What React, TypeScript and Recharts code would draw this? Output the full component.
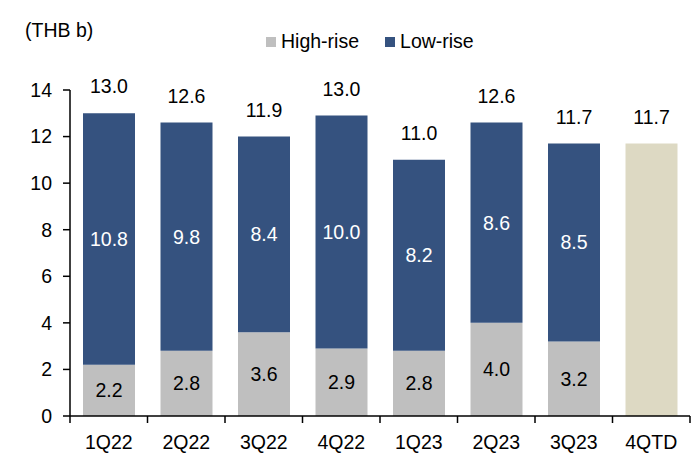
import React from "react"
import {
  Bar,
  BarChart,
  XAxis,
  YAxis,
  Legend,
  LabelList
} from "recharts"

const quarters = ["1Q22", "2Q22", "3Q22", "4Q22", "1Q23", "2Q23", "3Q23", "4QTD"]
const highRise = [2.2, 2.8, 3.6, 2.9, 2.8, 4.0, 3.2, null]
const lowRise = [10.8, 9.8, 8.4, 10.0, 8.2, 8.6, 8.5, null]
const totals = [13.0, 12.6, 11.9, 13.0, 11.0, 12.6, 11.7, null]
const quarterToDate = [null, null, null, null, null, null, null, 11.7]
const yTicks = [0, 2, 4, 6, 8, 10, 12, 14]

const FONT = "'Liberation Sans', Arial, sans-serif"
const FONT_SIZE = 19.5
const HIGH_COLOR = "#BFBFBF"
const LOW_COLOR = "#35527F"
const QTD_COLOR = "#DDD9C3"

const data = quarters.map((name, i) => ({
  name,
  high: highRise[i],
  low: lowRise[i],
  total: totals[i],
  qtd: quarterToDate[i]
}))

const fmt = (v: any) => (v == null ? "" : Number(v).toFixed(1))

// category axis tick: label plus Excel-style tick marks between categories
const XTick = (props: any) => {
  const { x, y, payload, index } = props
  const half = 620 / quarters.length / 2
  const last = index === quarters.length - 1
  return (
    <g>
      <line x1={x - half} y1={y} x2={x - half} y2={y + 7} stroke="#000" strokeWidth={1.5} />
      {last && <line x1={x + half} y1={y} x2={x + half} y2={y + 7} stroke="#000" strokeWidth={1.5} />}
      <text x={x} y={y + 19} dy="0.71em" textAnchor="middle" fill="#000" fontSize={FONT_SIZE} fontFamily={FONT}>
        {payload.value}
      </text>
    </g>
  )
}

const LegendContent = () => {
  const items = [
    { label: "High-rise", color: HIGH_COLOR },
    { label: "Low-rise", color: LOW_COLOR }
  ]
  return (
    <div style={{ display: "flex", alignItems: "center", fontFamily: FONT, fontSize: FONT_SIZE, color: "#000" }}>
      {items.map((it, i) => (
        <div key={it.label} style={{ display: "flex", alignItems: "center", marginRight: i === 0 ? 26 : 0 }}>
          <span style={{ display: "inline-block", width: 10, height: 10, background: it.color, marginRight: 5 }} />
          <span>{it.label}</span>
        </div>
      ))}
    </div>
  )
}

export default function App() {
  return (
    <div style={{ position: "absolute", left: 0, top: 0, width: 697, height: 465, background: "#fff" }}>
      <div style={{ position: "absolute", left: 25, top: 19, fontFamily: FONT, fontSize: FONT_SIZE, color: "#000" }}>
        (THB b)
      </div>
      <BarChart
        width={697}
        height={465}
        data={data}
        barSize={52}
        margin={{ top: 90, right: 7, left: 0, bottom: 19 }}
      >
        <Legend
          layout="horizontal"
          verticalAlign="middle"
          align="center"
          content={<LegendContent />}
          wrapperStyle={{ left: 266, top: 30, width: "auto" }}
        />
        <XAxis
          dataKey="name"
          height={30}
          tickLine={false}
          tickSize={0}
          tickMargin={0}
          axisLine={{ stroke: "#000", strokeWidth: 1.5 }}
          tick={<XTick />}
          interval={0}
        />
        <YAxis
          width={70}
          domain={[0, 14]}
          ticks={yTicks}
          interval={0}
          tickSize={7}
          tickMargin={11}
          axisLine={{ stroke: "#000", strokeWidth: 1.5 }}
          tickLine={{ stroke: "#000", strokeWidth: 1.5 }}
          tick={{ fill: "#000", fontSize: FONT_SIZE, fontFamily: FONT }}
        />
        <Bar dataKey="high" stackId="a" fill={HIGH_COLOR} isAnimationActive={false}>
          <LabelList dataKey="high" position="center" formatter={fmt} fill="#000" fontSize={FONT_SIZE} fontFamily={FONT} />
        </Bar>
        <Bar dataKey="low" stackId="a" fill={LOW_COLOR} isAnimationActive={false}>
          <LabelList dataKey="low" position="center" formatter={fmt} fill="#fff" fontSize={FONT_SIZE} fontFamily={FONT} />
          <LabelList dataKey="total" position="top" offset={20} formatter={fmt} fill="#000" fontSize={FONT_SIZE} fontFamily={FONT} />
        </Bar>
        <Bar dataKey="qtd" stackId="a" fill={QTD_COLOR} isAnimationActive={false}>
          <LabelList dataKey="qtd" position="top" offset={20} formatter={fmt} fill="#000" fontSize={FONT_SIZE} fontFamily={FONT} />
        </Bar>
      </BarChart>
    </div>
  )
}
